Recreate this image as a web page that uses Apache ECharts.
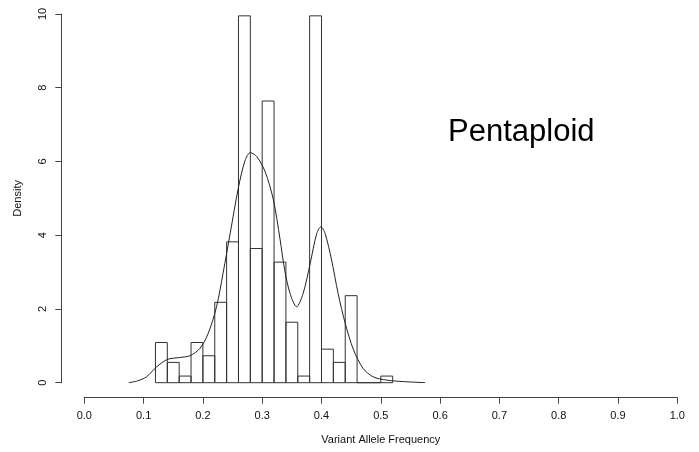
<!DOCTYPE html>
<html>
<head>
<meta charset="utf-8">
<script src="https://cdn.jsdelivr.net/npm/echarts@6/dist/echarts.min.js"></script>
<style>
  html, body { margin: 0; padding: 0; background: #fff; }
  #chart { width: 699px; height: 452px; }
</style>
</head>
<body>
<div id="chart"></div>
<script>
// histogram bins (left edges), width 0.02
const binLeft = [0.12, 0.14, 0.16, 0.18, 0.20, 0.22, 0.24, 0.26, 0.28, 0.30,
  0.32, 0.34, 0.36, 0.38, 0.40, 0.42, 0.44, 0.46, 0.48, 0.50]
const binWidth = 0.02
const binDensity = [1.09, 0.55, 0.18, 1.09, 0.73, 2.18, 3.82, 9.95, 3.64, 7.64,
  3.27, 1.64, 0.18, 9.95, 0.91, 0.55, 2.36, 0, 0, 0.18]

// kernel density curve
const kdeX = [0.075, 0.09, 0.105, 0.122, 0.14, 0.159, 0.178, 0.195, 0.209, 0.223,
  0.234, 0.246, 0.26, 0.271, 0.28, 0.291, 0.305, 0.319, 0.33, 0.338,
  0.347, 0.358, 0.369, 0.381, 0.392, 0.399, 0.406, 0.417, 0.428, 0.44,
  0.454, 0.47, 0.487, 0.51, 0.538, 0.575]
const kdeY = [0, 0.05, 0.16, 0.43, 0.63, 0.68, 0.73, 0.93, 1.34, 2.06,
  2.97, 4.05, 5.3, 6.02, 6.24, 6.13, 5.72, 4.95, 3.9, 3.05,
  2.42, 2.06, 2.42, 3.24, 4.05, 4.23, 4.05, 3.33, 2.42, 1.61,
  0.89, 0.39, 0.16, 0.07, 0.03, 0]

const xTicks = [0, 0.1, 0.2, 0.3, 0.4, 0.5, 0.6, 0.7, 0.8, 0.9, 1.0]
const yTicks = [0, 2, 4, 6, 8, 10]

const chart = echarts.init(document.getElementById('chart'), null, { renderer: 'canvas' })
const fontFamily = '"Liberation Sans", Arial, sans-serif'
const axisColor = '#444'

chart.setOption({
  animation: false,
  grid: { left: 84.3, right: 21.7, top: 14, bottom: 69.3 },
  graphic: [
    {
      type: 'text',
      left: 448,
      top: 117,
      style: {
        text: 'Pentaploid',
        font: '31px ' + fontFamily,
        fill: '#000'
      }
    }
  ],
  xAxis: {
    type: 'value',
    min: xTicks[0],
    max: xTicks[xTicks.length - 1],
    interval: 0.1,
    offset: 15,
    name: 'Variant Allele Frequency',
    nameLocation: 'middle',
    nameGap: 37,
    nameTextStyle: { fontSize: 11, fontFamily: fontFamily, color: '#111' },
    axisLine: { onZero: false, lineStyle: { color: axisColor, width: 1 } },
    axisTick: { length: 6, lineStyle: { color: axisColor } },
    axisLabel: {
      margin: 13,
      fontSize: 11,
      fontFamily: fontFamily,
      color: '#111',
      formatter: v => v.toFixed(1)
    },
    splitLine: { show: false }
  },
  yAxis: {
    type: 'value',
    min: yTicks[0],
    max: yTicks[yTicks.length - 1],
    interval: 2,
    offset: 23,
    name: 'Density',
    nameLocation: 'middle',
    nameRotate: 90,
    nameGap: 38,
    nameTextStyle: { fontSize: 11, fontFamily: fontFamily, color: '#111' },
    axisLine: { show: true, onZero: false, lineStyle: { color: axisColor, width: 1 } },
    axisTick: { show: true, length: 6, lineStyle: { color: axisColor } },
    axisLabel: {
      rotate: 90,
      margin: 13,
      fontSize: 11,
      fontFamily: fontFamily,
      color: '#111'
    },
    splitLine: { show: false }
  },
  series: [
    {
      type: 'custom',
      name: 'hist',
      data: binLeft.map((x, i) => [x, x + binWidth, binDensity[i]]),
      encode: { x: [0, 1], y: 2 },
      renderItem: (params, api) => {
        const p0 = api.coord([api.value(0), 0])
        const p1 = api.coord([api.value(1), api.value(2)])
        return {
          type: 'rect',
          shape: { x: p0[0], y: p1[1], width: p1[0] - p0[0], height: p0[1] - p1[1] },
          style: { fill: 'rgba(0,0,0,0)', stroke: '#333', lineWidth: 1 }
        }
      }
    },
    {
      type: 'line',
      name: 'density',
      data: kdeX.map((x, i) => [x, kdeY[i]]),
      smooth: 0.3,
      showSymbol: false,
      lineStyle: { color: '#222', width: 1 }
    }
  ]
})
</script>
</body>
</html>
